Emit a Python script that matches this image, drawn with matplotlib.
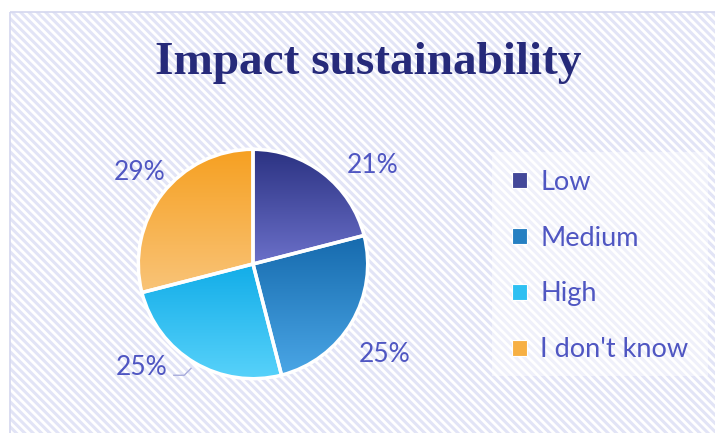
import numpy as np
import matplotlib.pyplot as plt
from matplotlib.patches import Rectangle, Patch
from matplotlib.colors import LinearSegmentedColormap

categories = ['Low', 'Medium', 'High', "I don't know"]
shares = [21, 25, 25, 29]
top_colors = ['#2b3282', '#166aad', '#12ade8', '#f6a021']
bottom_colors = ['#6b70c9', '#4aa6e6', '#5ad3fb', '#f9c479']
swatch_colors = ['#434899', '#2680c2', '#2ec0f2', '#f7b043']
# label positions in pie units (radius = 1)
label_pos = [(1.04, 0.86), (1.15, -0.79), (-0.97, -0.90), (-0.99, 0.80)]

text_color = '#4f56c2'
plt.rcParams['hatch.linewidth'] = 2.2
plt.rcParams['hatch.color'] = '#e2e4f6'

W, H = 715, 433
fig = plt.figure(figsize=(W / 100, H / 100), dpi=100)
fig.patch.set_facecolor('white')

# background with diagonal hatch
bg = fig.add_axes([0, 0, 1, 1])
bg.set_xlim(0, W)
bg.set_ylim(H, 0)
bg.axis('off')
bg.add_patch(Rectangle((10, 12), W, H, facecolor='white', edgecolor='#e2e4f6',
                       hatch='\\\\\\\\', linewidth=0))
bg.add_patch(Rectangle((10, 12), W, H, facecolor='none', edgecolor='#d4d7ef', linewidth=1.2))
bg.add_patch(Rectangle((492, 152), 216, 224, facecolor='white', alpha=0.45, linewidth=0))
bg.text(368, 63, 'Impact sustainability', ha='center', va='center',
        fontsize=34, fontweight='bold', family='Liberation Serif', color='#262a7a')

# pie
cx, cy, R = 253, 264, 117
ax = fig.add_axes([(cx - R) / W, (H - cy - R) / H, 2 * R / W, 2 * R / H])
wedges, _ = ax.pie(shares, startangle=90, counterclock=False, radius=1,
                   wedgeprops=dict(facecolor='none', edgecolor='white', linewidth=2.5))
for w, c0, c1 in zip(wedges, top_colors, bottom_colors):
    v = w.get_path().vertices
    y0, y1 = v[:, 1].min(), v[:, 1].max()
    x0, x1 = v[:, 0].min(), v[:, 0].max()
    cmap = LinearSegmentedColormap.from_list('g', [c1, c0])
    grad = np.linspace(0, 1, 256).reshape(-1, 1)
    im = ax.imshow(grad, cmap=cmap, extent=(x0, x1, y0, y1), origin='lower',
                   aspect='auto', zorder=0.5)
    im.set_clip_path(w)
    w.set_zorder(1)
ax.set_xlim(-1.02, 1.02)
ax.set_ylim(-1.02, 1.02)
ax.axis('off')

for (x, y), s in zip(label_pos, shares):
    ax.text(x, y, f'{s}%', ha='center', va='center', fontsize=19,
            family='Lato', color=text_color, clip_on=False)
# leader line for the High label
ax.plot([-0.69, -0.60, -0.54], [-0.97, -0.97, -0.91], color='#a8acdc',
        linewidth=1, clip_on=False)

handles = [Patch(facecolor=c, edgecolor='white', linewidth=0.8) for c in swatch_colors]
leg = fig.legend(handles, categories, loc='center left', bbox_to_anchor=(501 / W, 1 - 266 / H),
                 frameon=False, fontsize=19.5, labelspacing=1.14, handlelength=0.55,
                 handleheight=0.55, handletextpad=0.5, borderaxespad=0)
for t in leg.get_texts():
    t.set_color(text_color)
    t.set_family('Lato')

fig.savefig('out.png', dpi=100)
